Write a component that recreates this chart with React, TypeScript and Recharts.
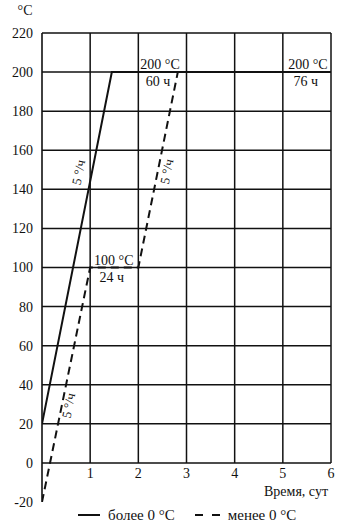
import React from "react";
import {
  LineChart,
  Line,
  XAxis,
  YAxis,
  ReferenceLine,
  ReferenceDot,
} from "recharts";

// ось времени, сутки
const days = [1, 2, 3, 4, 5, 6];
// температура, °C
const tempTicks = [-20, 0, 20, 40, 60, 80, 100, 120, 140, 160, 180, 200, 220];
const gridTemps = [0, 20, 40, 60, 80, 100, 120, 140, 160, 180, 200, 220];

// более 0 °C
const aboveDays = [0, 1.45, 6];
const aboveTemps = [20, 200, 200];

// менее 0 °C
const belowDays = [0, 1, 2, 2.82, 6];
const belowTemps = [-20, 100, 100, 200, 200];

// выдержка: температура / время
const holdDays = [2.45, 5.52, 1.49];
const holdTemps = [200, 200, 100];
const holdTexts = ["200 °C", "200 °C", "100 °C"];
const holdHours = ["60 ч", "76 ч", "24 ч"];

// скорость подъёма
const rateDays = [0.79, 2.62, 0.58];
const rateTemps = [148.6, 149, 29.2];
const rateText = "5 °/ч";

const aboveData = aboveDays.map((x, i) => ({ x, t: aboveTemps[i] }));
const belowData = belowDays.map((x, i) => ({ x, t: belowTemps[i] }));

const FONT = "'Liberation Serif', 'DejaVu Serif', serif";
const INK = "#111";

const HoldNote = ({ viewBox, top, bottom }: any) => {
  if (!viewBox) return null;
  const { x, y } = viewBox;
  return (
    <g fontFamily={FONT} fontSize={14} fill={INK} textAnchor="middle">
      <text x={x} y={y - 3}>{top}</text>
      <text x={x - 2} y={y + 14}>{bottom}</text>
    </g>
  );
};

const RateNote = ({ viewBox }: any) => {
  if (!viewBox) return null;
  const { x, y } = viewBox;
  return (
    <text
      x={x}
      y={y}
      fontFamily={FONT}
      fontSize={13}
      fill={INK}
      textAnchor="middle"
      dominantBaseline="middle"
      transform={`rotate(-79 ${x} ${y})`}
    >
      {rateText}
    </text>
  );
};

const AxisName = ({ viewBox }: any) => {
  if (!viewBox) return null;
  const { x, y } = viewBox;
  return (
    <text x={x - 3} y={y - 6} fontFamily={FONT} fontSize={14} fill={INK} textAnchor="end">
      Время, сут
    </text>
  );
};

const UnitLabel = ({ viewBox }: any) => {
  if (!viewBox) return null;
  const { x, y } = viewBox;
  return (
    <text x={x + 25} y={y - 18} fontFamily={FONT} fontSize={14} fill={INK} textAnchor="middle">
      °C
    </text>
  );
};

const DayTick = ({ x, y, payload }: any) => (
  <text x={x} y={y - 24} fontFamily={FONT} fontSize={14} fill={INK} textAnchor="middle">
    {payload.value}
  </text>
);

export default function App() {
  return (
    <div style={{ position: "absolute", left: 0, top: 0, width: 346, height: 526, background: "#fff" }}>
      <LineChart
        width={346}
        height={526}
        margin={{ top: 33, right: 15, left: 0, bottom: 0 }}
      >
        <XAxis
          type="number"
          dataKey="x"
          domain={[0, 6]}
          ticks={days}
          interval={0}
          height={24}
          axisLine={false}
          tickLine={false}
          tickSize={0}
          tickMargin={0}
          tick={<DayTick />}
          allowDataOverflow
        />
        <YAxis
          type="number"
          domain={[-20, 220]}
          ticks={tempTicks}
          interval={0}
          width={42}
          axisLine={{ stroke: INK, strokeWidth: 1.6 }}
          tickLine={false}
          tickSize={6}
          tickMargin={3}
          tick={{ fontSize: 14, fill: INK, fontFamily: FONT }}
          label={<UnitLabel />}
          allowDataOverflow
        />

        {gridTemps.map((v) => (
          <ReferenceLine
            key={`h${v}`}
            segment={[{ x: 0, y: v }, { x: 6, y: v }]}
            stroke={INK}
            strokeWidth={1.5}
          />
        ))}
        {days.map((d) => (
          <ReferenceLine
            key={`v${d}`}
            segment={[{ x: d, y: 0 }, { x: d, y: 220 }]}
            stroke={INK}
            strokeWidth={1.5}
          />
        ))}

        <Line
          data={aboveData}
          dataKey="t"
          type="linear"
          stroke={INK}
          strokeWidth={2}
          dot={false}
          activeDot={false}
          isAnimationActive={false}
        />
        <Line
          data={belowData}
          dataKey="t"
          type="linear"
          stroke={INK}
          strokeWidth={2}
          strokeDasharray="8 5"
          dot={false}
          activeDot={false}
          isAnimationActive={false}
        />

        {holdDays.map((d, i) => (
          <ReferenceDot
            key={`hold${i}`}
            x={d}
            y={holdTemps[i]}
            r={0}
            fill="none"
            stroke="none"
            label={<HoldNote top={holdTexts[i]} bottom={holdHours[i]} />}
          />
        ))}
        {rateDays.map((d, i) => (
          <ReferenceDot
            key={`rate${i}`}
            x={d}
            y={rateTemps[i]}
            r={0}
            fill="none"
            stroke="none"
            label={<RateNote />}
          />
        ))}
        <ReferenceDot x={6} y={-20} r={0} fill="none" stroke="none" label={<AxisName />} />
      </LineChart>

      <div
        style={{
          position: "absolute",
          left: 78,
          top: 505,
          display: "flex",
          alignItems: "center",
          fontFamily: FONT,
          fontSize: 15,
          color: INK,
          lineHeight: "20px",
          whiteSpace: "nowrap",
        }}
      >
        <svg width={22} height={10}>
          <line x1={0} y1={5} x2={22} y2={5} stroke={INK} strokeWidth={2} />
        </svg>
        <span style={{ marginLeft: 8 }}>более 0 °C</span>
        <svg width={25} height={10} style={{ marginLeft: 20 }}>
          <line x1={0} y1={5} x2={25} y2={5} stroke={INK} strokeWidth={2} strokeDasharray="8 9" />
        </svg>
        <span style={{ marginLeft: 8 }}>менее 0 °C</span>
      </div>
    </div>
  );
}
